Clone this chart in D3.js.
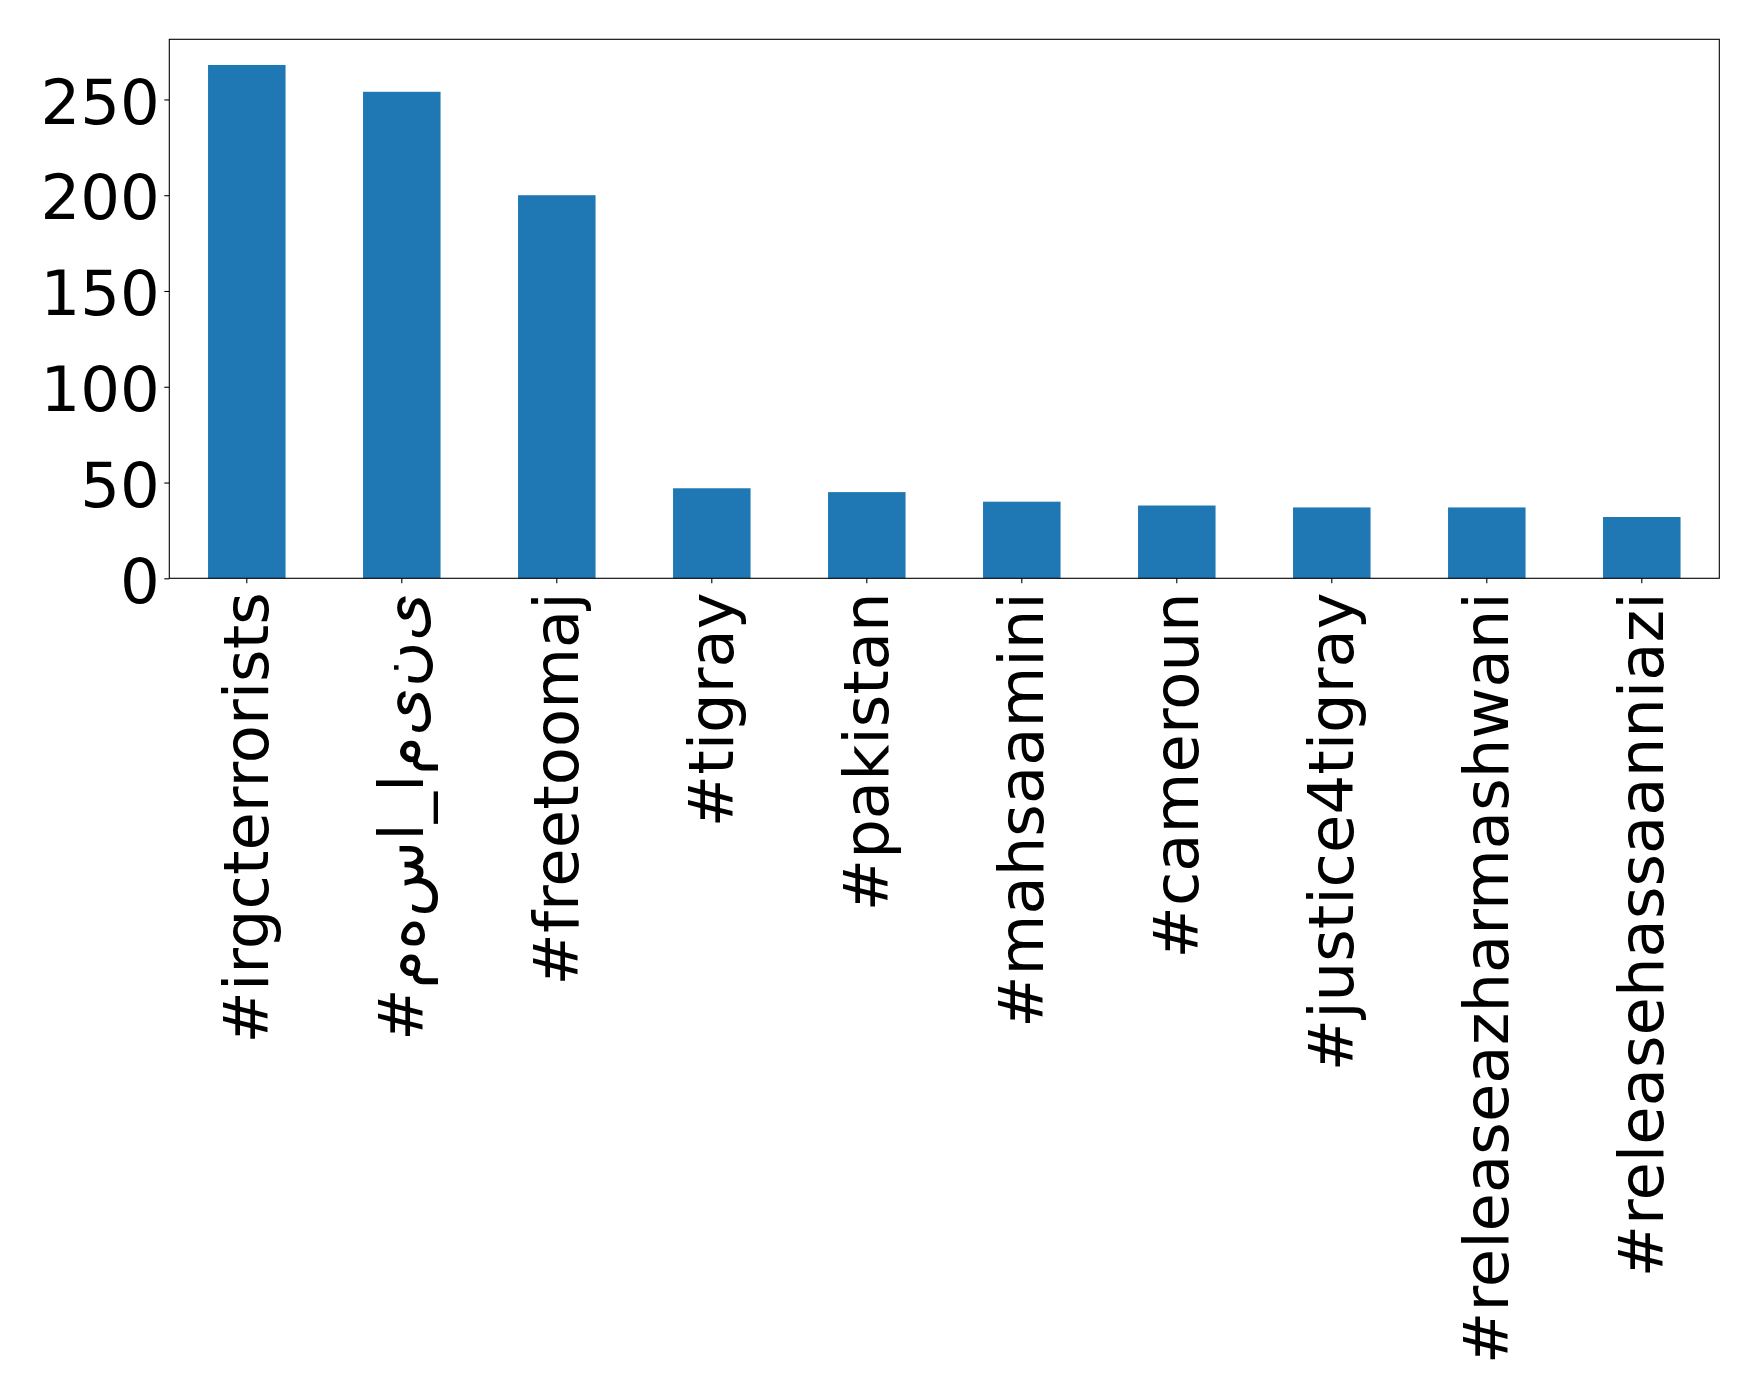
<!DOCTYPE html>
<html>
<head>
<meta charset="utf-8">
<script src="https://cdn.jsdelivr.net/npm/d3@7"></script>
<style>
  html, body { margin: 0; padding: 0; background: #ffffff; }
  svg { display: block; }
  text { font-family: "DejaVu Sans", sans-serif; fill: #000; }
</style>
</head>
<body>
<script>
const categories = ["#irgcterrorists", "#مهسا_امینی", "#freetoomaj", "#tigray", "#pakistan",
                    "#mahsaamini", "#cameroun", "#justice4tigray", "#releaseazharmashwani", "#releasehassaanniazi"];
const counts = [268, 254, 200, 47, 45, 40, 38, 37, 37, 32];
const yTicks = [0, 50, 100, 150, 200, 250];

const W = 1758, H = 1399;
const m = { left: 169.3, right: 1719.3, top: 39.3, bottom: 578.3 };
const fontSize = 62.5;

const svg = d3.select("body").append("svg").attr("width", W).attr("height", H);

const x = d3.scaleBand().domain(categories).range([m.left, m.right])
  .paddingInner(0.5).paddingOuter(0.25);
const y = d3.scaleLinear().domain([0, d3.max(counts) * 1.05]).range([m.bottom, m.top]);

// bars
svg.append("g").selectAll("rect").data(categories).join("rect")
  .attr("x", d => x(d))
  .attr("width", x.bandwidth())
  .attr("y", (d, i) => y(counts[i]))
  .attr("height", (d, i) => y(0) - y(counts[i]))
  .attr("fill", "#1f77b4");

// y axis
const yAxis = svg.append("g").attr("transform", `translate(${m.left},0)`)
  .call(d3.axisLeft(y).tickValues(yTicks).tickSize(5).tickPadding(4.5).tickFormat(d3.format("d")));
yAxis.select(".domain").remove();
yAxis.selectAll("line").attr("stroke", "#000").attr("stroke-width", 1.1);
yAxis.selectAll("text").attr("font-size", fontSize).attr("font-family", "DejaVu Sans")
  .attr("dy", "0.38em").attr("fill", "#000");

// x axis
const xAxis = svg.append("g").attr("transform", `translate(0,${m.bottom})`)
  .call(d3.axisBottom(x).tickSize(5).tickPadding(0));
xAxis.select(".domain").remove();
xAxis.selectAll("line").attr("stroke", "#000").attr("stroke-width", 1.1);
const isArabic = s => /[\u0600-\u06FF]/.test(s);
xAxis.selectAll("text")
  .attr("font-size", fontSize).attr("font-family", "DejaVu Sans").attr("fill", "#000")
  .attr("text-anchor", "end")
  .attr("transform", "translate(0,14) rotate(-90)")
  .attr("x", 0).attr("y", 0).attr("dy", "0.34em")
  .style("direction", "ltr")
  .style("unicode-bidi", d => isArabic(d) ? "bidi-override" : null)
  .text(d => isArabic(d) ? Array.from(d).join("\u200C") : d);

// frame
svg.append("rect")
  .attr("x", m.left).attr("y", m.top)
  .attr("width", m.right - m.left).attr("height", m.bottom - m.top)
  .attr("fill", "none").attr("stroke", "#000").attr("stroke-width", 1.1);
</script>
</body>
</html>
